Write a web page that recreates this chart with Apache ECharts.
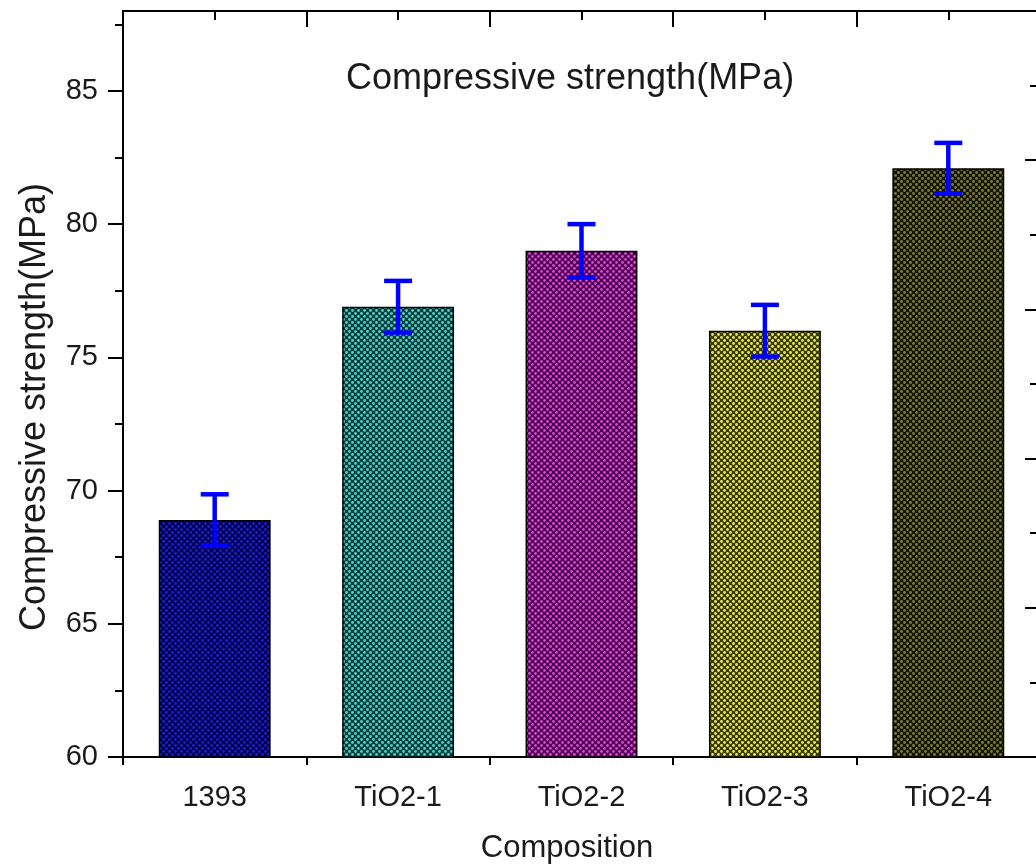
<!DOCTYPE html>
<html>
<head>
<meta charset="utf-8">
<script src="https://cdn.jsdelivr.net/npm/echarts@6/dist/echarts.min.js"></script>
<style>
  html, body { margin: 0; padding: 0; background: #fff; }
  #chart { width: 1036px; height: 868px; }
</style>
</head>
<body>
<div id="chart"></div>
<script>
// Compressive strength of each composition, with standard deviation
const categories = ['1393', 'TiO2-1', 'TiO2-2', 'TiO2-3', 'TiO2-4'];
const strength = [68.9, 76.9, 79.0, 76.0, 82.1];
const deviation = [0.96, 0.97, 1.0, 0.97, 0.95];
const yTicks = [60, 65, 70, 75, 80, 85];
// dark base / light dot colours for the dotted fill of each bar
const baseColors = ['#00004c', '#0b3c3c', '#4a004a', '#3a3a00', '#141404'];
const dotColors = ['#1c1cd8', '#40d8d0', '#e040e0', '#ecec48', '#7e7e2c'];

const FONT = '"Liberation Sans", Arial, sans-serif';
const INK = '#1a1a1a';
const TICK = { color: '#000', width: 2 };

function dotPattern(base, dot) {
  const c = document.createElement('canvas');
  c.width = 6; c.height = 6;
  const ctx = c.getContext('2d');
  ctx.fillStyle = base;
  ctx.fillRect(0, 0, 6, 6);
  ctx.fillStyle = dot;
  [[1.5, 1.5], [4.5, 4.5]].forEach(function (p) {
    ctx.beginPath();
    ctx.arc(p[0], p[1], 1.45, 0, Math.PI * 2);
    ctx.fill();
  });
  return { image: c, repeat: 'repeat' };
}

const barData = strength.map(function (v, i) {
  return {
    value: v,
    itemStyle: { color: dotPattern(baseColors[i], dotColors[i]), borderColor: '#000', borderWidth: 1.5 }
  };
});
const errData = strength.map(function (v, i) { return [i, v - deviation[i], v + deviation[i]]; });

const chart = echarts.init(document.getElementById('chart'), null, { renderer: 'canvas' });

chart.setOption({
  animation: false,
  backgroundColor: '#fff',
  title: {
    text: 'Compressive strength(MPa)',
    left: 341,
    top: 56,
    textStyle: { fontFamily: FONT, fontSize: 36, fontWeight: 'normal', color: INK }
  },
  // the frame runs slightly past the right edge of the page
  grid: { left: 123, top: 11, width: 917, height: 746, containLabel: false, outerBoundsMode: 'none' },
  xAxis: [
    {
      type: 'category',
      position: 'bottom',
      data: categories,
      name: 'Composition',
      nameLocation: 'middle',
      nameGap: 76,
      nameTextStyle: { fontFamily: FONT, fontSize: 31, color: INK, padding: [0, 29, 0, 0] },
      axisLine: { onZero: false, lineStyle: { color: '#000', width: 2 } },
      axisTick: { alignWithLabel: true, length: 15, lineStyle: TICK },
      axisLabel: { fontFamily: FONT, fontSize: 29, color: INK, margin: 26 },
      splitLine: { show: false }
    },
    {
      // short ticks on the category boundaries along the bottom
      type: 'value',
      position: 'bottom',
      min: 0, max: 10, interval: 2,
      axisLine: { show: false, onZero: false },
      axisTick: { show: true, length: 8, lineStyle: TICK },
      axisLabel: { show: false },
      splitLine: { show: false }
    },
    {
      // top frame: long ticks at boundaries, short at category centres
      type: 'value',
      position: 'top',
      min: 0, max: 10, interval: 2,
      axisLine: { show: true, onZero: false, lineStyle: { color: '#000', width: 2 } },
      axisTick: { show: true, inside: true, length: 16, lineStyle: TICK },
      minorTick: { show: true, splitNumber: 2, length: 9, lineStyle: TICK },
      axisLabel: { show: false },
      splitLine: { show: false }
    }
  ],
  yAxis: [
    {
      type: 'value',
      position: 'left',
      min: 60, max: 88, interval: 5,
      name: 'Compressive strength(MPa)',
      nameLocation: 'middle',
      nameGap: 70,
      nameRotate: 90,
      nameTextStyle: { fontFamily: FONT, fontSize: 36, color: INK, padding: [0, 46, 0, 0] },
      axisLine: { show: true, onZero: false, lineStyle: { color: '#000', width: 2 } },
      axisTick: { show: true, length: 15, lineStyle: TICK, customValues: yTicks },
      minorTick: { show: true, splitNumber: 2, length: 8, lineStyle: TICK },
      axisLabel: { fontFamily: FONT, fontSize: 29, color: INK, margin: 25, customValues: yTicks },
      splitLine: { show: false },
      minorSplitLine: { show: false }
    },
    {
      // right frame with inward ticks
      type: 'value',
      position: 'right',
      min: 0, max: 5, interval: 1,
      axisLine: { show: true, onZero: false, lineStyle: { color: '#000', width: 2 } },
      axisTick: { show: true, inside: true, length: 15, lineStyle: TICK },
      minorTick: { show: true, splitNumber: 2, length: 10, lineStyle: TICK },
      axisLabel: { show: false },
      splitLine: { show: false }
    }
  ],
  series: [
    {
      type: 'bar',
      xAxisIndex: 0,
      yAxisIndex: 0,
      barWidth: '61%',
      data: barData,
      z: 2
    },
    {
      type: 'custom',
      xAxisIndex: 0,
      yAxisIndex: 0,
      data: errData,
      z: 5,
      renderItem: function (params, api) {
        const x = api.value(0);
        const lo = api.coord([x, api.value(1)]);
        const hi = api.coord([x, api.value(2)]);
        const half = 14;
        const style = { stroke: '#0000ff', lineWidth: 4.5, fill: null };
        return {
          type: 'group',
          children: [
            { type: 'line', shape: { x1: hi[0], y1: hi[1], x2: lo[0], y2: lo[1] }, style: style },
            { type: 'line', shape: { x1: hi[0] - half, y1: hi[1], x2: hi[0] + half, y2: hi[1] }, style: style },
            { type: 'line', shape: { x1: lo[0] - half, y1: lo[1], x2: lo[0] + half, y2: lo[1] }, style: style }
          ]
        };
      }
    }
  ]
});
</script>
</body>
</html>
